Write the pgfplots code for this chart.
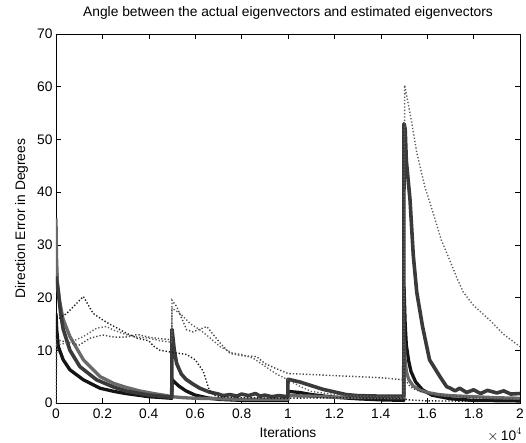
\documentclass[border=0pt]{standalone}
\usepackage{pgfplots}
\pgfplotsset{compat=1.18}
\usepackage{fontspec}
\setmainfont{Liberation Sans}
\definecolor{cblack}{RGB}{20,20,20}
\definecolor{cdark}{RGB}{58,58,58}
\definecolor{cgray}{RGB}{105,105,105}
\definecolor{dblack}{RGB}{25,25,25}
\definecolor{dgrayA}{RGB}{70,70,70}
\definecolor{dgrayB}{RGB}{95,95,95}
\begin{document}
\begin{tikzpicture}
\useasboundingbox (-56pt,-39pt) rectangle (470pt,403pt);
\begin{axis}[
  at={(0pt,0pt)}, anchor=south west,
  scale only axis, width=464pt, height=369pt,
  xmin=0, xmax=2, ymin=0, ymax=70,
  xtick={0,0.2,0.4,0.6,0.8,1,1.2,1.4,1.6,1.8,2},
  xticklabels={0,0.2,0.4,0.6,0.8,1,1.2,1.4,1.6,1.8,2},
  ytick={0,10,20,30,40,50,60,70},
  tick align=inside, major tick length=5pt,
  tick style={black, line width=0.6pt},
  axis line style={black, line width=0.8pt},
  font=\fontsize{13.8}{16}\selectfont,
  tick label style={font=\fontsize{13.8}{16}\selectfont},
  xticklabel style={yshift=-2pt},
  /pgf/number format/assume math mode=true,
  every axis title shift=0pt,
  title={Angle between the actual eigenvectors and estimated eigenvectors},
  title style={at={(axis description cs:0.5,1.058)}, anchor=center, font=\fontsize{13.8}{16}\selectfont},
  xlabel={Iterations},
  xlabel style={at={(axis description cs:0.5,-0.0813)}, anchor=center},
  ylabel={Direction Error in Degrees},
  ylabel style={at={(axis description cs:-0.0740,0.5)}, anchor=center, rotate=0},
  clip=true,
]
% black thick
\addplot[cblack, line width=3.3pt, line join=round] coordinates {
(0,17) (0.003,14) (0.01,10.7) (0.031,8.2) (0.06,6.3) (0.118,4.4) (0.19,2.8) (0.25,2.2) (0.3,1.8) (0.4,1.2) (0.499,0.9)
(0.5,4.5) (0.51,4.0) (0.53,3.2) (0.56,2.3) (0.6,1.5) (0.65,1.0) (0.7,0.7) (0.8,0.5) (0.999,0.5)
(1.0,2.2) (1.05,2.0) (1.1,1.6) (1.2,1.1) (1.3,0.8) (1.4,0.6) (1.499,0.5)
(1.5,22) (1.505,15) (1.51,11) (1.52,8) (1.53,6) (1.55,4) (1.58,2.5) (1.62,1.5) (1.7,0.8) (1.8,0.5) (2.0,0.4)
};
% gray thick
\addplot[cgray, line width=3.3pt, line join=round] coordinates {
(0,35) (0.002,28) (0.006,23) (0.015,19.5) (0.03,16) (0.06,12.6) (0.118,8.2) (0.19,5) (0.25,3.7) (0.3,3) (0.36,2.3) (0.42,1.8) (0.477,1.4) (0.5,1.2)
(0.55,1.0) (0.6,0.9) (0.7,0.8) (0.8,0.7) (0.999,0.7)
(1.0,1.4) (1.1,1.3) (1.2,1.1) (1.499,1.0)
(1.5,12) (1.505,8) (1.51,6) (1.52,4.5) (1.54,3.2) (1.57,2.4) (1.6,2) (1.65,1.6) (1.7,1.4) (1.8,1.2) (1.9,1.0) (2.0,0.9)
};
% dark gray thick
\addplot[cdark, line width=3.6pt, line join=round] coordinates {
(0,24) (0.01,21) (0.02,17) (0.031,14) (0.06,10) (0.103,6.9) (0.175,4.4) (0.25,3) (0.3,2.3) (0.4,1.5) (0.499,1.1)
(0.5,14) (0.505,12) (0.51,10) (0.52,7.5) (0.54,5.5) (0.56,4.5) (0.59,3.6) (0.62,2.8) (0.66,2.1) (0.7,1.7) (0.72,1.4) (0.75,1.6) (0.78,1.3) (0.8,1.7) (0.83,1.4) (0.86,1.8) (0.88,1.3) (0.9,1.5) (0.93,1.2) (0.96,1.4) (0.999,1.2)
(1.0,4.5) (1.05,4.0) (1.1,3.3) (1.15,2.6) (1.2,2.1) (1.25,1.6) (1.3,1.4) (1.4,1.3) (1.499,1.3)
(1.5,53) (1.505,52) (1.51,46) (1.526,38.5) (1.54,28) (1.555,21) (1.58,14.5) (1.61,8.2) (1.655,5) (1.684,3.1) (1.7,2.8) (1.72,2.3) (1.74,2.8) (1.77,2.0) (1.8,2.5) (1.83,1.8) (1.86,2.4) (1.9,1.9) (1.93,2.3) (1.96,1.7) (2.0,1.8)
};
% black dotted
\addplot[dblack, line width=1.4pt, dash pattern=on 1.3pt off 2.0pt] coordinates {
(0,0) (0.003,15.7) (0.046,17) (0.08,18.5) (0.118,20.2) (0.16,17) (0.2,15.8) (0.23,15) (0.26,14.3) (0.305,13.2) (0.35,12.3) (0.4,11.8) (0.42,10.8) (0.448,10) (0.49,9.7)
(0.52,9.5) (0.563,9.2) (0.6,8.2) (0.635,6) (0.66,2.5) (0.68,1.5) (0.7,1.2) (0.8,1.0) (1.0,0.9) (1.2,1.0) (1.4,0.9) (1.5,0.8) (1.52,0.6) (1.6,0.4) (2.0,0.3)
};
% gray dotted A
\addplot[dgrayA, line width=1.4pt, dash pattern=on 1.3pt off 2.0pt] coordinates {
(0,0) (0.003,12) (0.06,11.4) (0.1,11) (0.147,12.3) (0.2,12.9) (0.25,12.5) (0.3,12.5) (0.35,13) (0.4,12.5) (0.45,12.2) (0.499,12)
(0.5,19.5) (0.52,18.3) (0.563,13.9) (0.59,13.5) (0.65,14.5) (0.707,11.4) (0.75,9.4) (0.8,9) (0.865,8.8) (0.9,7.5) (0.95,6.5) (1.0,5.6)
(1.05,5.5) (1.1,5.4) (1.2,5.2) (1.3,5.0) (1.4,4.8) (1.497,4.4) (1.51,4.2) (1.526,3.1) (1.55,2.5) (1.6,1.8) (1.7,1.3) (1.8,1.0) (1.9,0.8) (2.0,0.7)
};
% gray dotted B
\addplot[dgrayB, line width=1.4pt, dash pattern=on 1.3pt off 2.0pt] coordinates {
(0,11) (0.06,11.5) (0.118,12.6) (0.175,14.2) (0.218,14.5) (0.25,13.8) (0.3,13) (0.35,12.5) (0.4,12.3) (0.45,11.8) (0.499,11.5)
(0.5,18) (0.534,17) (0.58,15) (0.62,13.9) (0.66,12.5) (0.707,10.7) (0.76,9.5) (0.8,9.2) (0.85,8.5) (0.9,7) (0.95,5.5) (1.0,4.4)
(1.05,3.2) (1.1,2.2) (1.2,1.6) (1.3,1.3) (1.4,1.2) (1.499,1.1)
(1.503,60.3) (1.53,54) (1.555,47.5) (1.59,41) (1.626,36) (1.66,31) (1.698,27) (1.73,23.5) (1.756,21) (1.8,18.5) (1.87,15.7) (1.93,13) (2.0,10.7)
};
\end{axis}
\node[anchor=base east, font=\fontsize{13.8}{16}\selectfont, inner sep=0pt] at (466pt,-37pt) {$\times$\,10$^{4}$};
\end{tikzpicture}
\end{document}
